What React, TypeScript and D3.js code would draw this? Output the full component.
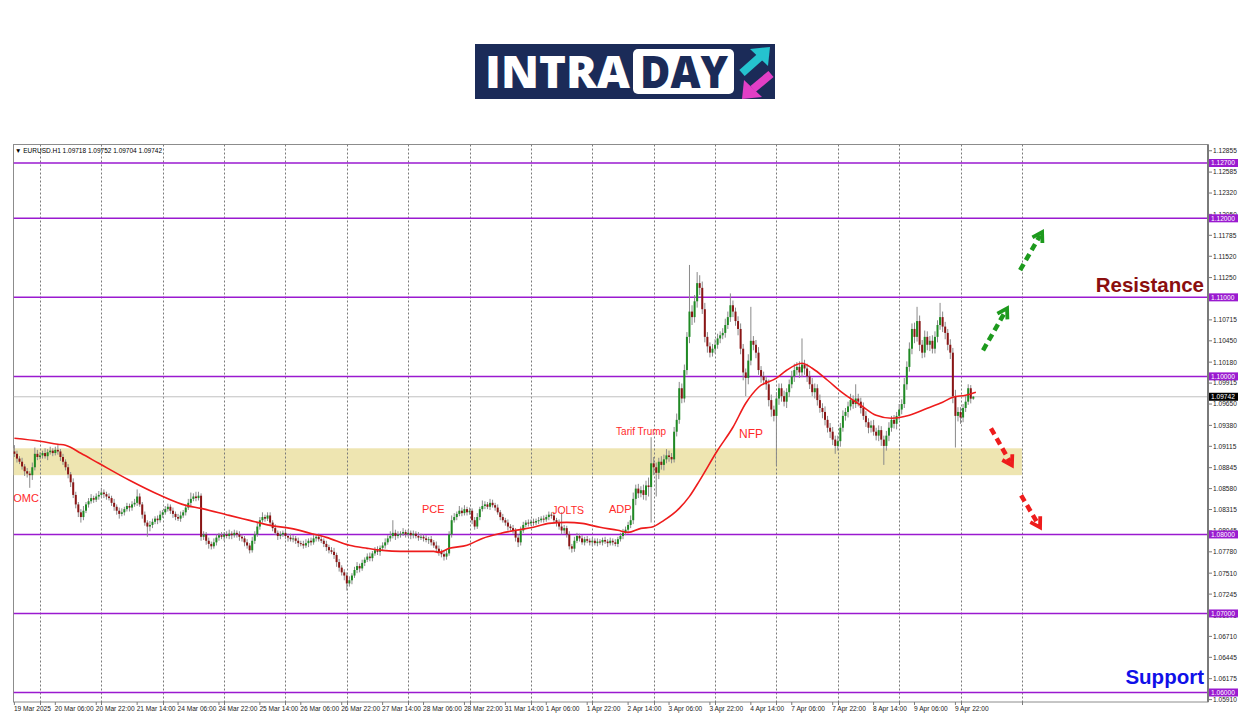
import React from "react";
import * as d3 from "d3";

// ---- DATA (prices in pips above 1.0000, i.e. 905 = 1.0905) ----
const firstOpen = 905;
const closes = [
  902, 896, 892, 886, 880, 877, 875, 885, 902, 898,
  900, 903, 899, 904, 906, 903, 907, 905, 898, 892,
  885, 876, 866, 850, 838, 828, 822, 830, 838, 842,
  846, 844, 848, 850, 853, 851, 848, 846, 840, 835,
  830, 826, 828, 832, 836, 834, 838, 840, 848, 838,
  825, 815, 810, 812, 816, 820, 818, 825, 828, 832,
  835, 830, 826, 822, 820, 824, 828, 834, 840, 845,
  848, 846, 849, 797, 800, 792, 788, 785, 790, 796,
  799, 797, 800, 798, 801, 799, 802, 800, 797, 795,
  790, 786, 780, 792, 800, 810, 818, 822, 820, 824,
  815, 808, 802, 798, 800, 802, 798, 796, 794, 795,
  792, 789, 788, 786, 789, 792, 790, 795, 797, 794,
  792, 788, 784, 780, 778, 774, 765, 758, 752, 748,
  738, 742, 748, 755, 760, 757, 764, 768, 772, 770,
  776, 780, 778, 783, 786, 790, 795, 798, 802, 798,
  800, 801, 803, 800, 802, 799, 801, 798, 796, 797,
  795, 793, 794, 790, 786, 782, 778, 775, 772, 776,
  800, 818, 822, 826, 830, 827, 832, 828, 830, 818,
  810, 822, 832, 836, 838, 835, 840, 837, 834, 828,
  822, 818, 815, 810, 808, 805, 796, 790, 805, 812,
  815, 814, 816, 815, 817, 818, 820, 819, 822, 825,
  824, 818, 815, 810, 805, 808, 800, 785, 782, 792,
  798, 795, 790, 794, 792, 790, 792, 789, 791, 790,
  793, 791, 789, 792, 790, 788, 794, 798, 802, 806,
  812, 818, 845, 858, 852, 856, 850, 862, 860, 890,
  885, 878, 892, 888, 895, 900, 898, 895, 930, 945,
  985, 972, 1008, 1050, 1082, 1075, 1095, 1118, 1112, 1085,
  1050, 1038, 1030, 1035, 1040, 1048, 1052, 1055, 1065, 1075,
  1090, 1082, 1070, 1060, 1035, 1005, 998, 1020, 1045, 1040,
  1030, 1008, 1000, 995, 990, 970, 958, 950, 972, 985,
  975, 968, 980, 990, 1000, 1008, 1012, 1005, 1015, 1010,
  1000, 990, 980, 985, 970, 960, 955, 945, 935, 930,
  920, 912, 918, 935, 950, 955, 962, 970, 965, 972,
  968, 960, 950, 942, 935, 938, 930, 925, 932, 920,
  912, 925, 935, 945, 940, 950, 958, 965, 990, 1012,
  1035, 1060, 1050, 1070, 1040, 1030, 1050, 1040, 1045, 1035,
  1050, 1065, 1075, 1063, 1055, 1040, 1030, 975, 950, 955,
  948, 960, 968, 985, 971.8, 974.2,
];
const upWicks = [
  8, 4, 3, 5, 3, 4, 3, 6, 8, 5,
  4, 3, 6, 4, 5, 3, 4, 6, 3, 4,
  3, 4, 3, 5, 4, 3, 4, 6, 3, 4,
  5, 3, 4, 5, 6, 4, 3, 4, 3, 5,
  3, 4, 5, 3, 4, 3, 4, 5, 9, 4,
  3, 4, 3, 5, 4, 3, 4, 5, 3, 4,
  4, 3, 4, 3, 4, 5, 3, 4, 5, 8,
  4, 6, 5, 3, 4, 3, 4, 3, 5, 4,
  3, 4, 3, 4, 5, 3, 4, 3, 4, 3,
  3, 4, 3, 5, 4, 5, 4, 6, 3, 4,
  4, 3, 5, 3, 4, 3, 4, 3, 5, 4,
  3, 4, 3, 4, 5, 3, 4, 6, 3, 4,
  4, 3, 4, 3, 4, 5, 3, 4, 3, 4,
  4, 5, 3, 4, 5, 3, 4, 3, 4, 5,
  3, 4, 5, 3, 4, 5, 4, 6, 16, 4,
  4, 3, 5, 3, 4, 3, 4, 3, 5, 4,
  3, 4, 3, 4, 3, 5, 4, 3, 4, 5,
  4, 6, 5, 3, 6, 4, 5, 3, 4, 3,
  4, 5, 3, 7, 4, 3, 5, 4, 3, 4,
  3, 4, 3, 4, 3, 4, 3, 4, 5, 4,
  3, 4, 3, 4, 3, 4, 3, 4, 3, 4,
  3, 4, 3, 4, 18, 4, 3, 4, 3, 5,
  4, 3, 4, 3, 4, 3, 4, 3, 4, 3,
  3, 4, 3, 4, 3, 4, 3, 4, 5, 4,
  4, 6, 8, 5, 6, 5, 7, 6, 10, 33,
  8, 6, 5, 7, 6, 8, 6, 5, 6, 8,
  8, 6, 7, 6, 59, 8, 8, 14, 10, 8,
  8, 6, 5, 6, 7, 6, 5, 6, 8, 7,
  15, 6, 5, 6, 7, 6, 5, 8, 43, 6,
  6, 7, 5, 6, 5, 6, 7, 5, 8, 6,
  6, 7, 5, 6, 7, 8, 6, 7, 33, 6,
  6, 7, 8, 6, 5, 7, 6, 7, 5, 6,
  6, 5, 7, 6, 7, 5, 6, 8, 6, 18,
  6, 5, 7, 6, 5, 6, 7, 5, 6, 5,
  5, 6, 7, 5, 6, 5, 7, 6, 8, 7,
  8, 7, 8, 18, 7, 6, 8, 7, 6, 7,
  7, 6, 18, 7, 6, 5, 7, 6, 8, 6,
  6, 5, 7, 5, 4, 1.0,
];
const downWicks = [
  4, 5, 3, 4, 6, 5, 16, 6, 4, 4,
  3, 4, 3, 5, 3, 4, 3, 4, 5, 4,
  4, 5, 6, 4, 5, 6, 7, 4, 3, 4,
  3, 4, 3, 4, 3, 5, 4, 3, 4, 5,
  5, 6, 3, 4, 3, 5, 4, 3, 4, 3,
  5, 4, 13, 6, 4, 3, 5, 3, 4, 3,
  3, 4, 5, 4, 3, 4, 3, 4, 3, 4,
  3, 4, 3, 5, 4, 5, 6, 4, 3, 4,
  4, 3, 5, 3, 4, 5, 3, 4, 5, 4,
  5, 4, 4, 3, 4, 3, 4, 3, 4, 3,
  3, 4, 3, 5, 4, 3, 4, 5, 3, 4,
  4, 5, 3, 4, 3, 5, 4, 3, 4, 3,
  3, 4, 5, 4, 3, 5, 6, 5, 4, 6,
  9, 4, 5, 3, 4, 5, 3, 4, 3, 4,
  4, 3, 4, 5, 3, 4, 3, 4, 3, 5,
  3, 4, 3, 4, 3, 5, 4, 3, 4, 3,
  4, 3, 5, 4, 3, 4, 5, 4, 5, 4,
  3, 4, 3, 4, 3, 4, 3, 4, 3, 5,
  4, 3, 4, 3, 4, 3, 4, 3, 4, 3,
  4, 3, 4, 5, 3, 4, 5, 6, 4, 3,
  3, 4, 3, 4, 3, 4, 3, 4, 3, 4,
  4, 3, 5, 4, 5, 4, 4, 4, 5, 4,
  3, 4, 3, 4, 3, 4, 5, 3, 4, 3,
  4, 3, 5, 3, 4, 3, 4, 3, 4, 3,
  3, 4, 5, 8, 6, 5, 6, 7, 12, 45,
  10, 30, 8, 6, 7, 5, 6, 5, 4, 6,
  5, 6, 5, 6, 8, 10, 7, 8, 9, 6,
  7, 8, 6, 5, 6, 5, 6, 5, 6, 5,
  6, 7, 6, 8, 7, 10, 23, 8, 6, 7,
  7, 6, 8, 6, 7, 8, 9, 7, 63, 8,
  7, 6, 8, 6, 5, 7, 6, 7, 6, 8,
  7, 6, 5, 8, 7, 6, 8, 7, 6, 8,
  7, 10, 6, 7, 5, 6, 7, 5, 6, 5,
  6, 7, 5, 6, 7, 6, 5, 6, 7, 8,
  24, 6, 7, 5, 6, 7, 5, 6, 5, 7,
  6, 7, 8, 6, 8, 7, 6, 7, 8, 6,
  6, 7, 6, 7, 8, 7, 8, 9, 40, 7,
  8, 6, 5, 4, 6, 1.4,
];

// Moving average (bar index, price)
const maBars = [0, 10, 17, 20, 26, 33, 45, 57, 67, 73, 84, 92, 100, 108, 116, 122, 131, 138, 144, 151, 157, 164, 166, 170, 177, 183, 190, 196, 203, 209, 216, 222, 229, 236, 240, 245, 249, 254, 260, 264, 268, 275, 281, 286, 291, 298, 302, 308, 312, 318, 324, 331, 337, 343, 350, 357, 363, 367, 372, 376];
const maValues = [1.09217, 1.09179, 1.09141, 1.09128, 1.09027, 1.089, 1.08685, 1.08495, 1.08368, 1.0833, 1.08241, 1.08178, 1.08115, 1.08077, 1.08013, 1.07963, 1.07862, 1.07824, 1.07798, 1.07786, 1.07786, 1.07786, 1.07773, 1.07824, 1.07862, 1.0795, 1.08013, 1.08052, 1.0809, 1.0814, 1.08153, 1.0814, 1.0809, 1.08052, 1.08026, 1.08077, 1.0809, 1.08178, 1.0833, 1.08482, 1.08685, 1.09065, 1.09356, 1.0966, 1.09863, 1.09977, 1.10078, 1.10167, 1.10103, 1.09951, 1.09787, 1.09635, 1.09508, 1.0947, 1.09508, 1.09597, 1.09673, 1.09736, 1.09761, 1.098];

const priceTicks = [1.12855, 1.12585, 1.1232, 1.1205, 1.11785, 1.1152, 1.1125, 1.10985, 1.10715, 1.1045, 1.1018, 1.09915, 1.0965, 1.0938, 1.09115, 1.08845, 1.0858, 1.08315, 1.08045, 1.0778, 1.0751, 1.07245, 1.06975, 1.0671, 1.06445, 1.06175, 1.0591];
const levelPrices = [1.127, 1.12, 1.11, 1.1, 1.08, 1.07, 1.06];
const timeLabels = ["19 Mar 2025", "20 Mar 06:00", "20 Mar 22:00", "21 Mar 14:00", "24 Mar 06:00", "24 Mar 22:00", "25 Mar 14:00", "26 Mar 06:00", "26 Mar 22:00", "27 Mar 14:00", "28 Mar 06:00", "28 Mar 22:00", "31 Mar 14:00", "1 Apr 06:00", "1 Apr 22:00", "2 Apr 14:00", "3 Apr 06:00", "3 Apr 22:00", "4 Apr 14:00", "7 Apr 06:00", "7 Apr 22:00", "8 Apr 14:00", "9 Apr 06:00", "9 Apr 22:00"];
const dayStartBars = [10, 34, 58, 82, 106, 130, 154, 178, 202, 226, 250, 274, 298, 322, 346, 370, 394];

const zone = { fromBar: 0, toBar: 394, low: 1.0875, high: 1.0909 };
const eventLabels = [
  { text: "FOMC", bar: -3.1, price: 1.0841, size: 11 },
  { text: "PCE", bar: 159.4, price: 1.0827, size: 11 },
  { text: "JOLTS", bar: 210.3, price: 1.0826, size: 10.5 },
  { text: "ADP", bar: 232.5, price: 1.0827, size: 11 },
  { text: "Tarif Trump", bar: 235.3, price: 1.0926, size: 10 },
  { text: "NFP", bar: 283.4, price: 1.0922, size: 12 },
];
const arrows = [
  { color: "#1d9a1d", b0: 378.8, p0: 1.1033, b1: 388.2, p1: 1.1086 },
  { color: "#1d9a1d", b0: 393.3, p0: 1.11345, b1: 401.9, p1: 1.11826 },
  { color: "#ee1c1c", b0: 381.9, p0: 1.09343, b1: 390.1, p1: 1.08875 },
  { color: "#ee1c1c", b0: 393.7, p0: 1.08495, b1: 401.1, p1: 1.0809 },
];

const plotLeft = 13.5, plotTop = 144.5, plotRight = 1208, plotBottom = 702;
const axisFont = "'Liberation Sans', Arial, sans-serif";

export default function App() {
  const x = d3.scaleLinear().domain([0, 394]).range([14.4, 1021.9]);
  const y = d3.scaleLinear().domain([1.06, 1.127]).range([692.5, 163]);
  const toP = (v: number) => 1 + v / 10000;

  const bars = closes.map((c, i) => {
    const o = i === 0 ? firstOpen : closes[i - 1];
    return {
      i,
      o: toP(o),
      c: toP(c),
      h: toP(Math.max(o, c) + upWicks[i]),
      l: toP(Math.min(o, c) - downWicks[i]),
    };
  });
  const last = bars[bars.length - 1];
  const fmt = d3.format(".5f");

  const maLine = d3
    .line<number>()
    .x((_, k) => x(maBars[k]))
    .y((d) => y(d))
    .curve(d3.curveMonotoneX)(maValues) as string;

  return (
    <svg
      width={1250}
      height={716}
      style={{ position: "absolute", left: 0, top: 0, background: "#fff" }}
    >
      <defs>
        <clipPath id="plot">
          <rect x={plotLeft} y={plotTop} width={plotRight - plotLeft} height={plotBottom - plotTop} />
        </clipPath>
      </defs>
      <rect width={1250} height={716} fill="#fff" />

      {/* Logo */}
      <g>
        <rect x={475} y={44} width={300} height={55} fill="#1b2b58" />
        <text
          x={485}
          y={87.5}
          fontFamily="'Open Sans', 'Liberation Sans', sans-serif"
          fontWeight={800}
          fontSize={45}
          fill="#fff"
          textLength={145}
          lengthAdjust="spacingAndGlyphs"
        >
          INTRA
        </text>
        <rect x={633} y={49} width={101} height={45} rx={5} fill="#fff" />
        <text
          x={640}
          y={87.5}
          fontFamily="'Open Sans', 'Liberation Sans', sans-serif"
          fontWeight={800}
          fontSize={45}
          fill="#1b2b58"
          textLength={88}
          lengthAdjust="spacingAndGlyphs"
        >
          DAY
        </text>
        <line x1={742} y1={73} x2={760} y2={57} stroke="#25c3cf" strokeWidth={8} />
        <polygon points="770,47 768,66 750,49" fill="#25c3cf" />
        <line x1={771} y1={74} x2={753} y2={89} stroke="#e23fc6" strokeWidth={8} />
        <polygon points="742,99 744,80 762,97" fill="#e23fc6" />
      </g>

      {/* chart frame */}
      <rect
        x={plotLeft}
        y={plotTop}
        width={plotRight - plotLeft}
        height={plotBottom - plotTop}
        fill="#fff"
        stroke="#8c8c8c"
        strokeWidth={1}
      />

      <g clipPath="url(#plot)">
        {/* yellow zone */}
        <rect
          x={x(zone.fromBar) - 1}
          y={y(zone.high)}
          width={x(zone.toBar) - x(zone.fromBar) + 1}
          height={y(zone.low) - y(zone.high)}
          fill="#eee5b1"
        />
        {/* vertical grid */}
        {dayStartBars.map((b) => (
          <line
            key={"g" + b}
            x1={Math.round(x(b)) + 0.5}
            x2={Math.round(x(b)) + 0.5}
            y1={plotTop}
            y2={plotBottom}
            stroke="#7a7a7a"
            strokeWidth={1}
            strokeDasharray="2 2"
          />
        ))}
        {/* level lines */}
        {levelPrices.map((p) => (
          <line
            key={"l" + p}
            x1={plotLeft}
            x2={plotRight}
            y1={y(p)}
            y2={y(p)}
            stroke="#9a1ad0"
            strokeWidth={1.5}
          />
        ))}
        {/* current price line */}
        <line x1={plotLeft} x2={plotRight} y1={y(last.c)} y2={y(last.c)} stroke="#c0c0c0" strokeWidth={1} />

        {/* candles */}
        {bars.map((b) => {
          const cx = x(b.i);
          const top = y(Math.max(b.o, b.c));
          const bot = y(Math.min(b.o, b.c));
          const up = b.c >= b.o;
          return (
            <g key={"c" + b.i}>
              <line x1={cx} x2={cx} y1={y(b.h)} y2={y(b.l)} stroke="#8a8a8a" strokeWidth={1} />
              <rect
                x={cx - 1}
                y={top}
                width={2}
                height={Math.max(1, bot - top)}
                fill={up ? "#1f8a24" : "#8a1515"}
              />
            </g>
          );
        })}

        {/* moving average */}
        <path d={maLine} fill="none" stroke="#ee1c1c" strokeWidth={1.6} />

        {/* event labels */}
        {eventLabels.map((e) => (
          <text
            key={e.text}
            x={x(e.bar)}
            y={y(e.price)}
            fontFamily={axisFont}
            fontSize={e.size}
            fill="#ff2a2a"
          >
            {e.text}
          </text>
        ))}

        {/* arrows */}
        {arrows.map((a, k) => {
          const x0 = x(a.b0), y0 = y(a.p0), x1 = x(a.b1), y1 = y(a.p1);
          const ang = Math.atan2(y1 - y0, x1 - x0);
          const len = 11;
          const spread = 0.55;
          const hx1 = x1 - len * Math.cos(ang - spread);
          const hy1 = y1 - len * Math.sin(ang - spread);
          const hx2 = x1 - len * Math.cos(ang + spread);
          const hy2 = y1 - len * Math.sin(ang + spread);
          const sx = x1 - 4 * Math.cos(ang);
          const sy = y1 - 4 * Math.sin(ang);
          return (
            <g key={"a" + k}>
              <line x1={x0} y1={y0} x2={sx} y2={sy} stroke={a.color} strokeWidth={4.5} strokeDasharray="7 4.5" />
              <polyline
                points={`${hx1},${hy1} ${x1},${y1} ${hx2},${hy2}`}
                fill="none"
                stroke={a.color}
                strokeWidth={3.8}
                strokeLinejoin="miter"
              />
            </g>
          );
        })}
      </g>

      {/* Resistance / Support labels */}
      <text
        x={plotRight - 4}
        y={y(1.11068)}
        textAnchor="end"
        fontFamily={axisFont}
        fontWeight={700}
        fontSize={20.5}
        fill="#8b0f0f"
      >
        Resistance
      </text>
      <text
        x={plotRight - 4}
        y={y(1.06105)}
        textAnchor="end"
        fontFamily={axisFont}
        fontWeight={700}
        fontSize={20.5}
        fill="#1010e8"
      >
        Support
      </text>

      {/* header */}
      <text x={15} y={152.5} fontFamily={axisFont} fontSize={6.5} fill="#000">
        {"\u25BC  EURUSD.H1  " + [last.o, last.h, last.l, last.c].map(fmt).join(" ")}
      </text>

      {/* right axis */}
      <line x1={plotRight} x2={plotRight} y1={plotTop} y2={plotBottom} stroke="#7a7a7a" strokeWidth={2} />
      {priceTicks.map((p) => (
        <g key={"t" + p}>
          <line x1={plotRight} x2={plotRight + 4} y1={y(p)} y2={y(p)} stroke="#7a7a7a" />
          <text x={1213} y={y(p) + 2.4} fontFamily={axisFont} fontSize={6.6} fill="#222">
            {fmt(p)}
          </text>
        </g>
      ))}
      {levelPrices.map((p) => (
        <g key={"lb" + p}>
          <rect x={1209} y={y(p) - 4} width={29} height={8} fill="#9a1ad0" />
          <text x={1211} y={y(p) + 2.4} fontFamily={axisFont} fontSize={6.6} fill="#fff">
            {fmt(p)}
          </text>
        </g>
      ))}
      <rect x={1209} y={y(last.c) - 4} width={29} height={8} fill="#000" />
      <text x={1211} y={y(last.c) + 2.4} fontFamily={axisFont} fontSize={6.6} fill="#fff">
        {fmt(last.c)}
      </text>

      {/* bottom axis */}
      {dayStartBars.map((b) => (
        <line
          key={"bt" + b}
          x1={Math.round(x(b)) + 0.5}
          x2={Math.round(x(b)) + 0.5}
          y1={plotBottom}
          y2={plotBottom + 3}
          stroke="#7a7a7a"
        />
      ))}
      {timeLabels.map((t, k) => (
        <g key={"xl" + k}>
          <line x1={x(k * 16)} x2={x(k * 16)} y1={plotBottom} y2={plotBottom + 3} stroke="#7a7a7a" />
          <text x={x(k * 16) - 0.5} y={711} fontFamily={axisFont} fontSize={6.6} fill="#222">
            {t}
          </text>
        </g>
      ))}
    </svg>
  );
}
